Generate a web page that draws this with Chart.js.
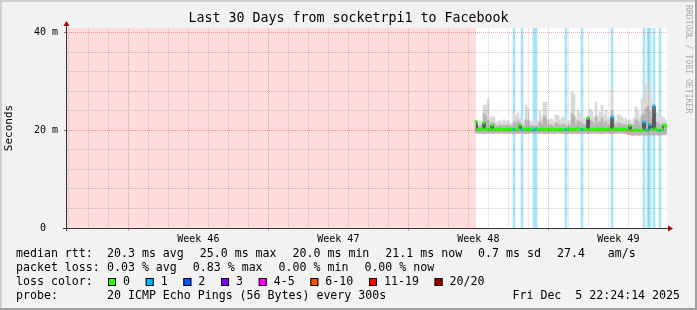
<!DOCTYPE html>
<html>
<head>
<meta charset="utf-8">
<script src="https://cdn.jsdelivr.net/npm/chart.js@4.4.1/dist/chart.umd.min.js"></script>
<style>
  html, body { margin: 0; padding: 0; background: #f2f2f2; }
  #wrap { width: 697px; height: 310px; }
</style>
</head>
<body>
<div id="wrap"><canvas id="smokeChart" width="697" height="310"></canvas></div>
<script>
// Smokeping style graph: last 30 days, socketrpi1 -> Facebook
const MONO = "'DejaVu Sans Mono', monospace";

// time axis is in days from the start of the 30 day window
const windowDays = 30;
const firstMidnight = 0.067;   // first day line after window start
const dataStart = 20.45;       // first sample (before that: unknown)
const sampleStep = 0.1;        // days between samples
const weekLabels = ['Week 46', 'Week 47', 'Week 48', 'Week 49'];

const yMax = 41;               // ms
const yTicks = [0, 2, 4, 6, 8, 10, 12, 14, 16, 18, 20, 22, 24, 26, 28, 30, 32, 34, 36, 38, 40];

// median rtt (ms)
const median = [
  21.8, 20.2, 20.2, 20.3, 21.6, 20.3, 20.2, 20.2, 21.1, 20.2,
  20.2, 20.2, 20.3, 20.2, 20.2, 20.2, 20.2, 20.2, 20.3, 20.2,
  20.2, 20.3, 21.1, 20.2, 20.2, 20.3, 20.2, 20.2, 20.2, 20.1,
  20.3, 20.2, 20.2, 20.3, 20.2, 20.2, 20.2, 20.2, 20.3, 20.2,
  20.2, 20.2, 20.1, 20.2, 20.2, 20.2, 20.3, 20.2, 20.2, 20.2,
  20.3, 20.4, 20.2, 20.2, 20.3, 20.2, 22.5, 20.2, 20.2, 20.2,
  20.2, 20.3, 20.2, 20.3, 20.2, 20.2, 20.3, 20.2, 22.7, 20.3,
  20.2, 20.2, 20.3, 20.2, 20.2, 20.2, 20.1, 21.0, 20.0, 20.0,
  20.2, 20.0, 20.0, 20.1, 21.7, 20.0, 20.1, 21.2, 20.2, 25.0,
  20.3, 20.0, 20.0, 20.2, 21.1, 20.9
];
// lowest ping (ms)
const smokeLow = [
  19.5, 19.4, 19.4, 19.4, 19.3, 19.4, 19.4, 19.5, 19.4, 19.4,
  19.5, 19.4, 19.4, 19.5, 19.4, 19.4, 19.5, 19.4, 19.4, 19.3,
  19.4, 19.4, 19.4, 19.5, 19.4, 19.3, 19.4, 19.4, 19.5, 19.3,
  19.4, 19.4, 19.4, 19.5, 19.3, 19.4, 19.4, 19.5, 19.4, 19.4,
  19.4, 19.5, 19.4, 19.4, 19.4, 19.3, 19.4, 19.5, 19.3, 19.4,
  19.4, 19.4, 19.4, 19.3, 19.4, 19.5, 19.3, 19.4, 19.4, 19.5,
  19.4, 19.4, 19.4, 19.3, 19.4, 19.4, 19.5, 19.4, 19.3, 19.4,
  19.4, 19.4, 19.5, 19.4, 19.4, 19.3, 19.2, 19.1, 19.0, 19.0,
  19.1, 19.0, 19.0, 19.1, 19.0, 19.0, 19.1, 19.0, 19.1, 19.0,
  19.1, 19.0, 19.0, 19.1, 19.1, 19.2
];
// dense part of the smoke (ms)
const smokeCore = [
  21.2, 20.8, 21.0, 20.9, 23.5, 23.0, 22.0, 21.2, 21.6, 21.5,
  20.9, 21.0, 21.1, 20.9, 21.1, 21.0, 21.0, 20.9, 20.8, 21.8,
  21.5, 22.0, 21.6, 21.0, 20.9, 22.2, 21.8, 21.0, 20.9, 20.9,
  21.0, 20.9, 21.8, 21.2, 23.0, 22.5, 21.0, 21.2, 21.1, 20.9,
  21.5, 21.4, 21.0, 21.2, 21.3, 21.0, 20.9, 21.0, 23.5, 23.0,
  21.2, 22.0, 21.8, 21.5, 21.2, 21.0, 22.5, 22.0, 21.8, 21.2,
  22.8, 21.5, 21.8, 22.5, 21.5, 21.9, 21.2, 21.0, 24.0, 21.4,
  21.0, 21.6, 21.5, 21.3, 21.1, 21.2, 21.0, 21.2, 20.9, 21.2,
  22.2, 21.8, 21.1, 23.0, 23.5, 24.5, 25.0, 23.8, 22.5, 23.5,
  21.8, 21.6, 21.1, 21.3, 21.4, 21.2
];
// highest ping (ms)
const smokeHigh = [
  22.2, 21.0, 22.0, 21.5, 25.2, 25.2, 26.4, 22.5, 22.8, 22.8,
  21.5, 21.8, 22.0, 21.6, 22.2, 21.8, 22.0, 21.5, 21.4, 23.6,
  23.0, 23.6, 22.5, 22.0, 21.8, 25.2, 24.5, 22.0, 21.6, 21.8,
  22.0, 21.7, 24.0, 22.5, 25.8, 25.8, 22.0, 22.3, 22.3, 21.8,
  23.2, 23.0, 22.0, 22.6, 22.8, 22.0, 21.6, 22.0, 27.9, 27.5,
  22.5, 24.2, 23.5, 23.0, 22.5, 22.0, 23.0, 24.4, 24.0, 22.5,
  25.8, 23.0, 23.8, 25.2, 23.0, 24.2, 22.5, 22.0, 28.5, 23.0,
  22.0, 23.2, 23.2, 22.8, 22.3, 22.5, 22.0, 22.2, 21.8, 22.5,
  24.8, 24.0, 22.5, 26.4, 26.4, 29.0, 30.0, 28.0, 25.5, 26.0,
  23.8, 23.5, 22.5, 22.8, 22.5, 22.0
];
// lost pings per sample (out of 20)
const loss = [
  0, 0, 0, 0, 0, 0, 0, 0, 0, 0,
  0, 0, 0, 0, 0, 0, 0, 0, 0, 1,
  0, 0, 0, 1, 0, 0, 0, 0, 0, 1,
  1, 0, 0, 0, 0, 0, 0, 0, 0, 0,
  0, 0, 0, 0, 0, 1, 0, 0, 0, 0,
  0, 0, 0, 1, 0, 0, 0, 0, 0, 0,
  0, 0, 0, 0, 0, 0, 0, 0, 1, 0,
  0, 0, 0, 0, 0, 0, 0, 0, 0, 0,
  0, 0, 0, 0, 1, 0, 1, 1, 0, 1,
  0, 0, 1, 0, 0, 0
];

const lossLabels = ['0', '1', '2', '3', '4-5', '6-10', '11-19', '20/20'];
const lossColors = ['#26ff00', '#00b8ff', '#0059ff', '#7e00ff', '#ff00ff', '#ff5500', '#ff0000', '#a00000'];

const rttStats = ['20.3 ms avg', '25.0 ms max', '20.0 ms min', '21.1 ms now', '0.7 ms sd', '27.4 ', 'am/s'];
const lossStats = ['0.03 % avg', '0.83 % max', '0.00 % min', '0.00 % now'];
const probeText = '20 ICMP Echo Pings (56 Bytes) every 300s';
const stamp = 'Fri Dec  5 22:24:14 2025';

const xs = median.map((_, i) => +(dataStart + i * sampleStep).toFixed(2));
const pts = arr => xs.map((x, i) => ({ x: x, y: arr[i] }));

const majorGrid = 'rgba(220,0,0,0.33)';
const minorGrid = 'rgba(0,0,0,0.17)';

// frame, page background and white plot background
const frameBg = {
  id: 'frameBg',
  beforeDraw(chart) {
    const { ctx, width, height, chartArea: a } = chart;
    ctx.save();
    ctx.fillStyle = '#f2f2f2';
    ctx.fillRect(0, 0, width, height);
    ctx.fillStyle = '#cfcfcf';
    ctx.fillRect(0, 0, width, 2);
    ctx.fillRect(0, 0, 2, height);
    ctx.fillStyle = '#9f9f9f';
    ctx.fillRect(0, height - 2, width, 2);
    ctx.fillRect(width - 2, 0, 2, height);
    ctx.fillStyle = '#ffffff';
    ctx.fillRect(a.left, a.top, a.right - a.left, a.bottom - a.top);
    ctx.restore();
  }
};

// axis lines with the little red arrows, footer legend, watermark
const extras = {
  id: 'extras',
  afterDraw(chart) {
    const { ctx, chartArea: a } = chart;
    const x0 = a.left - 0.5, y0 = a.bottom + 0.5;
    ctx.save();
    ctx.strokeStyle = '#333';
    ctx.lineWidth = 1;
    ctx.beginPath();
    ctx.moveTo(a.left - 4, y0); ctx.lineTo(a.right + 2, y0);
    ctx.moveTo(x0, a.bottom + 3); ctx.lineTo(x0, a.top - 3);
    ctx.stroke();
    ctx.fillStyle = '#a00000';
    ctx.beginPath();
    ctx.moveTo(x0 - 3, a.top - 2); ctx.lineTo(x0 + 3, a.top - 2); ctx.lineTo(x0, a.top - 7);
    ctx.fill();
    ctx.beginPath();
    ctx.moveTo(a.right + 1, y0 - 3); ctx.lineTo(a.right + 1, y0 + 3); ctx.lineTo(a.right + 6, y0);
    ctx.fill();

    // legend lines under the graph, items separated by a fixed gap
    ctx.font = '11.6px ' + MONO;
    ctx.fillStyle = '#000';
    ctx.textBaseline = 'middle';
    ctx.textAlign = 'left';
    const row = (label, items, y) => {
      ctx.fillText(label, 16, y);
      let x = 107;
      items.forEach(t => {
        ctx.fillText(t, x, y);
        x += ctx.measureText(t).width + 16;
      });
    };
    row('median rtt:', rttStats, 254);
    row('packet loss:', lossStats, 268);
    ctx.fillText('loss color:', 16, 282);
    let bx = 108;
    lossLabels.forEach((t, i) => {
      ctx.fillStyle = lossColors[i];
      ctx.fillRect(bx, 278, 8, 8);
      ctx.strokeStyle = '#000';
      ctx.strokeRect(bx + 0.5, 278.5, 7, 7);
      ctx.fillStyle = '#000';
      ctx.fillText(t, bx + 15, 282);
      bx += 15 + ctx.measureText(t).width + 15.7;
    });
    ctx.fillText('probe:', 16, 296);
    ctx.fillText(probeText, 107, 296);
    ctx.textAlign = 'right';
    ctx.fillText(stamp, 680, 296);

    // vertical watermark on the right
    ctx.translate(688, 5);
    ctx.rotate(Math.PI / 2);
    ctx.textAlign = 'left';
    ctx.font = '8.2px ' + MONO;
    ctx.fillStyle = '#aaa';
    ctx.fillText('RRDTOOL / TOBI OETIKER', 0, 0);
    ctx.restore();
  }
};

const ctx = document.getElementById('smokeChart').getContext('2d');
const smokeChart = new Chart(ctx, {
  type: 'bar',
  data: {
    datasets: [
      {
        // median dots, coloured by loss
        type: 'line',
        data: pts(median),
        showLine: false,
        pointStyle: 'line',
        pointRadius: 1.3,
        pointBorderWidth: 3,
        pointBorderColor: loss.map(l => lossColors[l]),
        pointHoverRadius: 0,
        order: 1
      },
      {
        type: 'line',
        data: pts(median),
        stepped: 'middle',
        borderColor: '#000',
        borderWidth: 1,
        pointRadius: 0,
        order: 2
      },
      {
        data: xs.map((x, i) => ({ x: x, y: [smokeLow[i], smokeCore[i]] })),
        backgroundColor: '#b6b6b6',
        grouped: false, barPercentage: 1, categoryPercentage: 1,
        order: 3
      },
      {
        data: xs.map((x, i) => ({ x: x, y: [smokeCore[i], smokeHigh[i]] })),
        backgroundColor: '#dadada',
        grouped: false, barPercentage: 1, categoryPercentage: 1,
        order: 4
      },
      {
        // full height loss shading
        data: xs.map((x, i) => ({ x: x, y: loss[i] > 0 ? [0, yMax] : null })),
        backgroundColor: '#a8e4f8',
        grouped: false, barPercentage: 1, categoryPercentage: 1,
        order: 5
      },
      {
        // no data yet -> pink
        type: 'line',
        data: [{ x: 0, y: yMax }, { x: dataStart, y: yMax }],
        borderWidth: 0,
        pointRadius: 0,
        fill: 'origin',
        backgroundColor: '#ffdddd',
        order: 6
      }
    ]
  },
  options: {
    responsive: false,
    animation: false,
    events: [],
    layout: { padding: 0, autoPadding: false },
    plugins: {
      legend: { display: false },
      tooltip: { enabled: false },
      title: {
        display: true,
        text: 'Last 30 Days from socketrpi1 to Facebook',
        color: '#000',
        font: { family: MONO, size: 13.3, weight: 'normal', lineHeight: '16px' },
        padding: { top: 11, bottom: 1 }
      }
    },
    scales: {
      x: {
        type: 'linear',
        min: 0,
        max: windowDays,
        offset: false,
        afterBuildTicks: s => {
          const t = [];
          for (let n = 0; firstMidnight + n * 0.5 <= windowDays; n++) t.push({ value: firstMidnight + n * 0.5 });
          s.ticks = t;
        },
        afterFit: s => { s.height = 82; },
        grid: {
          offset: false,
          z: 1,
          color: c => {
            if (c.index % 2) return 'transparent';
            return ((c.index / 2) - 3) % 7 === 0 ? majorGrid : minorGrid;
          },
          tickColor: c => (c.index % 2 === 0 && ((c.index / 2) - 3) % 7 === 0) ? majorGrid : 'transparent',
          tickLength: 3
        },
        border: { display: false, dash: [1, 1] },
        ticks: {
          autoSkip: false,
          maxRotation: 0,
          padding: 2,
          color: '#000',
          font: { family: MONO, size: 10 },
          callback: (v, i) => ((i - 13) % 14 === 0 ? weekLabels[(i - 13) / 14] : '')
        }
      },
      y: {
        min: 0,
        max: yMax,
        offset: false,
        afterBuildTicks: s => { s.ticks = yTicks.map(v => ({ value: v })); },
        afterFit: s => { s.width = 67; },
        grid: {
          z: 1,
          color: c => (c.tick.value === 0 ? 'transparent' : (c.tick.value % 10 === 0 ? majorGrid : minorGrid)),
          tickColor: c => (c.tick.value % 10 === 0 ? '#777' : 'transparent'),
          tickLength: 3
        },
        border: { display: false, dash: [1, 1] },
        ticks: {
          padding: 6,
          color: '#000',
          font: { family: MONO, size: 10 },
          callback: v => (v % 10 === 0 ? (v === 0 ? '0  ' : v + ' m') : '')
        },
        title: {
          display: true,
          text: 'Seconds',
          color: '#000',
          font: { family: MONO, size: 11 },
          padding: { top: 3, bottom: 0 }
        }
      },
      yR: {
        position: 'right',
        display: true,
        afterFit: s => { s.width = 30; },
        grid: { display: false },
        border: { display: false },
        ticks: { display: false }
      }
    }
  },
  plugins: [frameBg, extras]
});
</script>
</body>
</html>
